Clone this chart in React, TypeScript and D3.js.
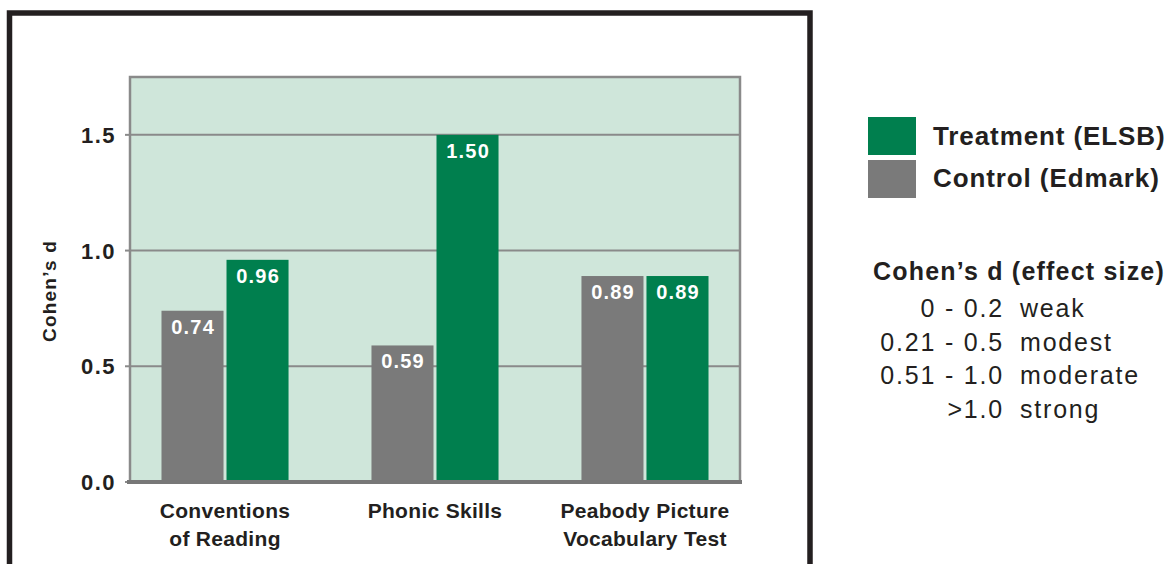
import * as React from "react";
import { scaleBand, scaleLinear, format } from "d3";

const categories = ["Conventions of Reading", "Phonic Skills", "Peabody Picture Vocabulary Test"];
const categoryLines = [["Conventions", "of Reading"], ["Phonic Skills"], ["Peabody Picture", "Vocabulary Test"]];
const seriesNames = ["Control (Edmark)", "Treatment (ELSB)"];
const controlValues = [0.74, 0.59, 0.89];
const treatmentValues = [0.96, 1.5, 0.89];
const yTicks = [0, 0.5, 1.0, 1.5];
const legendNames = ["Treatment (ELSB)", "Control (Edmark)"];
const effectRanges = ["0 - 0.2", "0.21 - 0.5", "0.51 - 1.0", ">1.0"];
const effectLabels = ["weak", "modest", "moderate", "strong"];

const GREEN = "#007f4e";
const GRAY = "#7a7a7a";
const INK = "#231f20";
const FONT = "'Liberation Sans', Arial, sans-serif";

export default function App() {
    const left = 130, right = 740, top = 77, bottom = 482;

    // scales
    const x = scaleBand().domain(categories).range([left, right]).paddingInner(0.395).paddingOuter(0.15);
    const xInner = scaleBand().domain(seriesNames).range([0, x.bandwidth()]).paddingInner(0.046);
    const y = scaleLinear().domain([0, 1.75]).range([bottom, top]);
    const fmt = format(".2f");
    const tickFmt = format(".1f");
    const colors = { "Control (Edmark)": GRAY, "Treatment (ELSB)": GREEN };

    const bars = categories.flatMap((c, i) => [
        { cat: c, key: seriesNames[0], value: controlValues[i] },
        { cat: c, key: seriesNames[1], value: treatmentValues[i] }
    ]);

    return (
        <svg width={1170} height={564} style={{ position: "absolute", left: 0, top: 0, fontFamily: FONT }}>
            <rect width={1170} height={564} fill="#fff" />
            {/* frame */}
            <path d="M9.5,564 V13 H810 V564" fill="none" stroke={INK} strokeWidth={5.5} />

            {/* plot background */}
            <rect x={left} y={top} width={right - left} height={bottom - top} fill="#cfe6da" stroke="#8a8a8a" strokeWidth={2.5} />

            {/* grid + ticks */}
            {yTicks.map(t => (
                <g key={t}>
                    {t > 0 && <line x1={left} x2={right} y1={y(t)} y2={y(t)} stroke="#8a8a8a" strokeWidth={2} />}
                    <line x1={125} x2={left} y1={y(t)} y2={y(t)} stroke="#8a8a8a" strokeWidth={2} />
                    <text x={116} y={y(t) + 8} textAnchor="end" fontSize={22} fontWeight="bold" fill={INK} letterSpacing={1.5}>
                        {tickFmt(t)}
                    </text>
                </g>
            ))}

            {/* bars */}
            {bars.map(b => {
                const bx = x(b.cat) + xInner(b.key);
                const w = xInner.bandwidth();
                return (
                    <g key={b.cat + b.key}>
                        <rect x={bx} y={y(b.value)} width={w} height={y(0) - y(b.value)} fill={colors[b.key]} />
                        <text x={bx + w / 2 + 0.6} y={y(b.value) + 23} textAnchor="middle" fontSize={20} fontWeight="bold" fill="#fff" letterSpacing={1.2}>
                            {fmt(b.value)}
                        </text>
                    </g>
                );
            })}

            {/* x axis line */}
            <line x1={127} x2={742} y1={bottom} y2={bottom} stroke="#777" strokeWidth={4} />

            {/* category labels */}
            {categories.map((c, i) => (
                <text key={c} textAnchor="middle" fontSize={21} fontWeight="bold" fill={INK} letterSpacing={0.3}>
                    {categoryLines[i].map((line, j) => (
                        <tspan key={j} x={x(c) + x.bandwidth() / 2} y={518 + j * 28}>{line}</tspan>
                    ))}
                </text>
            ))}

            {/* y title */}
            <text transform="translate(56,291) rotate(-90)" textAnchor="middle" fontSize={19} fontWeight="bold" fill={INK} letterSpacing={1.2}>
                Cohen’s d
            </text>

            {/* legend */}
            {legendNames.map((n, i) => (
                <g key={n}>
                    <rect x={868} y={117 + i * 43} width={48} height={38} fill={colors[n]} />
                    <text x={933} y={145 + i * 42} fontSize={26} fontWeight="bold" fill={INK} letterSpacing={0.9}>{n}</text>
                </g>
            ))}

            {/* effect size key */}
            <text x={873} y={280} fontSize={25} fontWeight="bold" fill={INK} letterSpacing={1.2}>Cohen’s d (effect size)</text>
            {effectRanges.map((r, i) => (
                <g key={r}>
                    <text x={1004} y={317 + i * 33.7} textAnchor="end" fontSize={25} fill={INK} letterSpacing={1.8}>{r}</text>
                    <text x={1020} y={317 + i * 33.7} fontSize={25} fill={INK} letterSpacing={1.8}>{effectLabels[i]}</text>
                </g>
            ))}
        </svg>
    );
}
